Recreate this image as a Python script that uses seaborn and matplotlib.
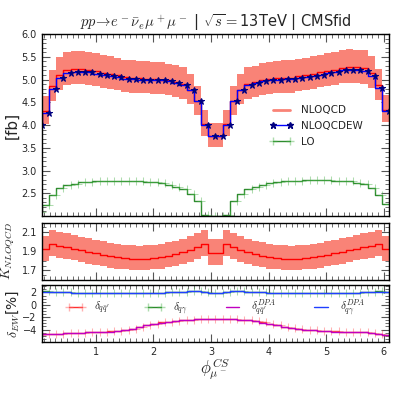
import numpy as np
import seaborn as sns
import matplotlib.pyplot as plt
from matplotlib.lines import Line2D
from matplotlib.ticker import MultipleLocator, FixedLocator

sns.set_style("ticks")
plt.rcParams["font.family"] = ["DejaVu Sans"]
plt.rcParams["mathtext.fontset"] = "cm"
plt.rcParams["xtick.direction"] = "in"
plt.rcParams["ytick.direction"] = "in"

# 50 bins over [0, 2pi], the last one is outside the shown range
phi = (np.arange(49) + 0.5) * 2 * np.pi / 50

nlo_qcdew = [4.00, 4.27, 4.79, 5.035, 5.14, 5.17, 5.17, 5.155, 5.13, 5.10,
             5.08, 5.05, 5.01, 5.01, 5.00, 4.99, 4.99, 4.98, 4.96, 4.925,
             4.89, 4.76, 4.52, 4.01, 3.76, 3.76, 4.01, 4.52, 4.76, 4.89,
             4.92, 4.97, 4.99, 5.00, 5.01, 5.01, 5.035, 5.05, 5.08, 5.11,
             5.14, 5.16, 5.20, 5.205, 5.20, 5.18, 5.08, 4.82, 4.30]
nlo_qcd = [4.02, 4.31, 4.85, 5.105, 5.21, 5.235, 5.235, 5.215, 5.19, 5.15,
           5.13, 5.09, 5.05, 5.04, 5.03, 5.02, 5.015, 5.00, 4.98, 4.94,
           4.90, 4.77, 4.525, 4.015, 3.76, 3.76, 4.015, 4.525, 4.77, 4.90,
           4.935, 4.99, 5.01, 5.025, 5.04, 5.04, 5.07, 5.09, 5.125, 5.16,
           5.195, 5.22, 5.26, 5.27, 5.265, 5.245, 5.14, 4.87, 4.34]
nlo_qcd_up = [4.32, 4.63, 5.21, 5.49, 5.60, 5.63, 5.63, 5.61, 5.58, 5.54,
              5.51, 5.47, 5.43, 5.42, 5.41, 5.40, 5.39, 5.375, 5.35, 5.31,
              5.27, 5.13, 4.86, 4.32, 4.04, 4.04, 4.32, 4.86, 5.13, 5.27,
              5.305, 5.36, 5.385, 5.40, 5.42, 5.42, 5.45, 5.47, 5.51, 5.55,
              5.585, 5.61, 5.655, 5.665, 5.66, 5.64, 5.525, 5.235, 4.665]
nlo_qcd_down = [3.76, 4.03, 4.535, 4.77, 4.87, 4.895, 4.895, 4.875, 4.85, 4.815,
                4.80, 4.76, 4.72, 4.71, 4.70, 4.695, 4.69, 4.675, 4.655, 4.62,
                4.58, 4.46, 4.23, 3.755, 3.515, 3.515, 3.755, 4.23, 4.46, 4.58,
                4.615, 4.665, 4.685, 4.70, 4.71, 4.71, 4.74, 4.76, 4.79, 4.825,
                4.855, 4.88, 4.92, 4.93, 4.92, 4.905, 4.805, 4.555, 4.06]
lo = [2.083, 2.245, 2.456, 2.605, 2.679, 2.712, 2.741, 2.752, 2.761, 2.761,
      2.773, 2.766, 2.760, 2.762, 2.764, 2.751, 2.740, 2.717, 2.685, 2.642,
      2.593, 2.491, 2.326, 2.033, 1.995, 1.995, 2.033, 2.326, 2.491, 2.593,
      2.639, 2.690, 2.723, 2.746, 2.762, 2.769, 2.778, 2.781, 2.785, 2.789,
      2.786, 2.777, 2.776, 2.759, 2.728, 2.697, 2.622, 2.466, 2.260]

k_factor = [1.93, 1.92, 1.975, 1.96, 1.945, 1.93, 1.91, 1.895, 1.88, 1.865,
            1.85, 1.84, 1.83, 1.825, 1.82, 1.825, 1.83, 1.84, 1.855, 1.87,
            1.89, 1.915, 1.945, 1.975, 1.885, 1.885, 1.975, 1.945, 1.915, 1.89,
            1.87, 1.855, 1.84, 1.83, 1.825, 1.82, 1.825, 1.83, 1.84, 1.85,
            1.865, 1.88, 1.895, 1.91, 1.93, 1.945, 1.96, 1.975, 1.92]
k_up = [2.075, 2.064, 2.123, 2.107, 2.091, 2.075, 2.053, 2.037, 2.021, 2.005,
        1.989, 1.978, 1.967, 1.962, 1.957, 1.962, 1.967, 1.978, 1.994, 2.010,
        2.032, 2.059, 2.091, 2.123, 2.026, 2.026, 2.123, 2.091, 2.059, 2.032,
        2.010, 1.994, 1.978, 1.967, 1.962, 1.957, 1.962, 1.967, 1.978, 1.989,
        2.005, 2.021, 2.037, 2.053, 2.075, 2.091, 2.107, 2.123, 2.064]
k_down = [1.805, 1.795, 1.847, 1.833, 1.819, 1.805, 1.786, 1.772, 1.758, 1.744,
          1.730, 1.720, 1.711, 1.706, 1.702, 1.706, 1.711, 1.720, 1.734, 1.748,
          1.767, 1.791, 1.819, 1.847, 1.762, 1.762, 1.847, 1.819, 1.791, 1.767,
          1.748, 1.734, 1.720, 1.711, 1.706, 1.702, 1.706, 1.711, 1.720, 1.730,
          1.744, 1.758, 1.772, 1.786, 1.805, 1.819, 1.833, 1.847, 1.795]

delta_qq = [-4.85, -4.75, -4.70, -4.65, -4.60, -4.55, -4.50, -4.45, -4.40, -4.35,
            -4.30, -4.20, -4.10, -3.90, -3.60, -3.30, -3.05, -2.85, -2.70, -2.55,
            -2.45, -2.40, -2.35, -2.35, -2.35, -2.35, -2.35, -2.35, -2.40, -2.50,
            -2.65, -2.85, -3.05, -3.30, -3.55, -3.75, -3.90, -4.00, -4.10, -4.20,
            -4.25, -4.30, -4.35, -4.40, -4.45, -4.45, -4.50, -4.70, -4.80]
delta_qq_dpa = [-4.87, -4.77, -4.71, -4.66, -4.61, -4.56, -4.51, -4.46, -4.41, -4.36,
                -4.31, -4.21, -4.11, -3.91, -3.61, -3.31, -3.06, -2.86, -2.71, -2.56,
                -2.46, -2.41, -2.36, -2.36, -2.36, -2.36, -2.36, -2.36, -2.41, -2.51,
                -2.66, -2.86, -3.06, -3.31, -3.56, -3.76, -3.91, -4.01, -4.11, -4.21,
                -4.26, -4.31, -4.36, -4.41, -4.46, -4.46, -4.51, -4.71, -4.82]
delta_qa = [2.10, 2.15, 2.10, 2.05, 2.00, 1.95, 1.95, 1.90, 1.90, 1.85,
            1.85, 1.85, 1.85, 1.85, 1.85, 1.90, 1.90, 1.95, 2.00, 2.05,
            2.10, 2.20, 2.25, 2.10, 1.90, 1.90, 2.10, 2.25, 2.20, 2.10,
            2.05, 2.00, 1.95, 1.90, 1.90, 1.85, 1.85, 1.85, 1.85, 1.85,
            1.85, 1.90, 1.90, 1.95, 1.95, 2.00, 2.05, 2.15, 2.10]
delta_qa_dpa = [2.09, 2.14, 2.09, 2.04, 1.99, 1.94, 1.94, 1.89, 1.89, 1.84,
                1.84, 1.84, 1.84, 1.84, 1.84, 1.89, 1.89, 1.94, 1.99, 2.04,
                2.09, 2.19, 2.24, 2.09, 1.89, 1.89, 2.09, 2.24, 2.19, 2.09,
                2.04, 1.99, 1.94, 1.89, 1.89, 1.84, 1.84, 1.84, 1.84, 1.84,
                1.84, 1.89, 1.89, 1.94, 1.94, 1.99, 2.04, 2.14, 2.09]

band_color = "#f98377"
lo_color = "#2e8b2e"
lo_marker = (0.3, 0.7, 0.3, 0.45)
qq_color = "#ff3030"
qq_marker = (1.0, 0.4, 0.4, 0.5)

fig = plt.figure(figsize=(3.99, 3.99), dpi=100)
ax_main = fig.add_axes([0.1045, 0.4586, 0.8712, 0.4561])
ax_k = fig.add_axes([0.1045, 0.2982, 0.8712, 0.1436])
ax_d = fig.add_axes([0.1045, 0.1429, 0.8712, 0.1429])

# main panel
ax_main.fill_between(phi, nlo_qcd_down, nlo_qcd_up, step="pre",
                     color=band_color, lw=0)
sns.lineplot(x=phi, y=nlo_qcd, drawstyle="steps-pre", color="red", lw=1,
             ax=ax_main)
sns.lineplot(x=phi, y=nlo_qcdew, drawstyle="steps-pre", color="blue", lw=1,
             marker="*", markersize=5, markerfacecolor="#000080",
             markeredgecolor="#000080", ax=ax_main)
sns.lineplot(x=phi, y=lo, drawstyle="steps-pre", color=lo_color, lw=1,
             marker="+", markersize=6, markeredgecolor=lo_marker, ax=ax_main)
ax_main.set_ylim(2.0, 6.0)
ax_main.set_ylabel("[fb]", fontsize=11)
ax_main.set_title(r"$pp\!\rightarrow\! e^-\bar{\nu}_e\mu^+\mu^-$ | "
                  r"$\sqrt{s}=$13TeV | CMSfid", fontsize=10.5, pad=5)
ax_main.yaxis.set_major_locator(FixedLocator([2.5, 3.0, 3.5, 4.0, 4.5,
                                              5.0, 5.5, 6.0]))
ax_main.yaxis.set_minor_locator(MultipleLocator(0.1))

handles = [
    Line2D([], [], color=band_color, lw=2),
    Line2D([], [], color="blue", lw=1, marker="*", markersize=5,
           markerfacecolor="#000080", markeredgecolor="#000080"),
    Line2D([], [], color=lo_color, lw=1, marker="+", markersize=6,
           markeredgecolor=lo_marker),
]
ax_main.legend(handles, ["NLOQCD", "NLOQCDEW", "LO"], loc="upper left",
               bbox_to_anchor=(0.63, 0.66), frameon=False, fontsize=7.5,
               numpoints=2, handlelength=2.2, labelspacing=0.55)

# K-factor panel
ax_k.fill_between(phi, k_down, k_up, step="pre", color=band_color, lw=0)
sns.lineplot(x=phi, y=k_factor, drawstyle="steps-pre", color="red", lw=1,
             ax=ax_k)
ax_k.set_ylim(1.6, 2.2)
ax_k.set_ylabel(r"$K_{NLOQCD}$", fontsize=10)
ax_k.yaxis.set_major_locator(FixedLocator([1.7, 1.9, 2.1]))
ax_k.yaxis.set_minor_locator(MultipleLocator(0.05))

# EW corrections panel
sns.lineplot(x=phi, y=delta_qq, drawstyle="steps-pre", color=qq_color, lw=1,
             marker="+", markersize=6, markeredgecolor=qq_marker, ax=ax_d)
sns.lineplot(x=phi, y=delta_qa, drawstyle="steps-pre", color=lo_color, lw=1,
             marker="+", markersize=6, markeredgecolor=lo_marker, ax=ax_d)
sns.lineplot(x=phi, y=delta_qq_dpa, drawstyle="steps-pre", color="#c000c0",
             lw=1, ax=ax_d)
sns.lineplot(x=phi, y=delta_qa_dpa, drawstyle="steps-pre", color="#1f3fff",
             lw=1, ax=ax_d)
ax_d.set_ylim(-6.0, 3.2)
ax_d.set_ylabel(r"$\delta_{EW}$[%]", fontsize=10)
ax_d.yaxis.set_major_locator(FixedLocator([-4, -2, 0, 2]))
ax_d.yaxis.set_minor_locator(MultipleLocator(0.5))
ax_d.set_xlabel(r"$\phi^{CS}_{\mu^-}$", fontsize=12, labelpad=0)

d_handles = [
    Line2D([], [], color=qq_color, lw=1, marker="+", markersize=6,
           markeredgecolor=qq_marker),
    Line2D([], [], color=lo_color, lw=1, marker="+", markersize=6,
           markeredgecolor=lo_marker),
    Line2D([], [], color="#c000c0", lw=1),
    Line2D([], [], color="#1f3fff", lw=1),
]
ax_d.legend(d_handles, [r"$\delta_{q\bar{q}'}$", r"$\delta_{q\gamma}$",
                        r"$\delta^{DPA}_{q\bar{q}'}$", r"$\delta^{DPA}_{q\gamma}$"],
            loc="center", bbox_to_anchor=(0.5, 0.6), ncol=4, frameon=False,
            fontsize=8, numpoints=2, handlelength=1.8, handletextpad=0.8,
            columnspacing=3.1)

for ax in (ax_main, ax_k, ax_d):
    ax.set_xlim(phi[0], phi[-1])
    ax.xaxis.set_major_locator(MultipleLocator(1))
    ax.xaxis.set_minor_locator(MultipleLocator(0.1))
    ax.tick_params(which="both", direction="in", top=True, right=True,
                   labelsize=7, color="#555555")
    ax.tick_params(which="major", length=6, width=0.8)
    ax.tick_params(which="minor", length=3, width=0.6)
    for side in ax.spines.values():
        side.set_linewidth(1.0)
        side.set_color("black")

ax_main.yaxis.set_label_coords(-0.065, 0.5)
ax_k.yaxis.set_label_coords(-0.07, 0.5)
ax_d.yaxis.set_label_coords(-0.06, 0.5)

ax_main.tick_params(labelbottom=False)
ax_k.tick_params(labelbottom=False)
ax_main.set_xlabel("")
ax_k.set_xlabel("")

fig.savefig("out.png", dpi=100)
